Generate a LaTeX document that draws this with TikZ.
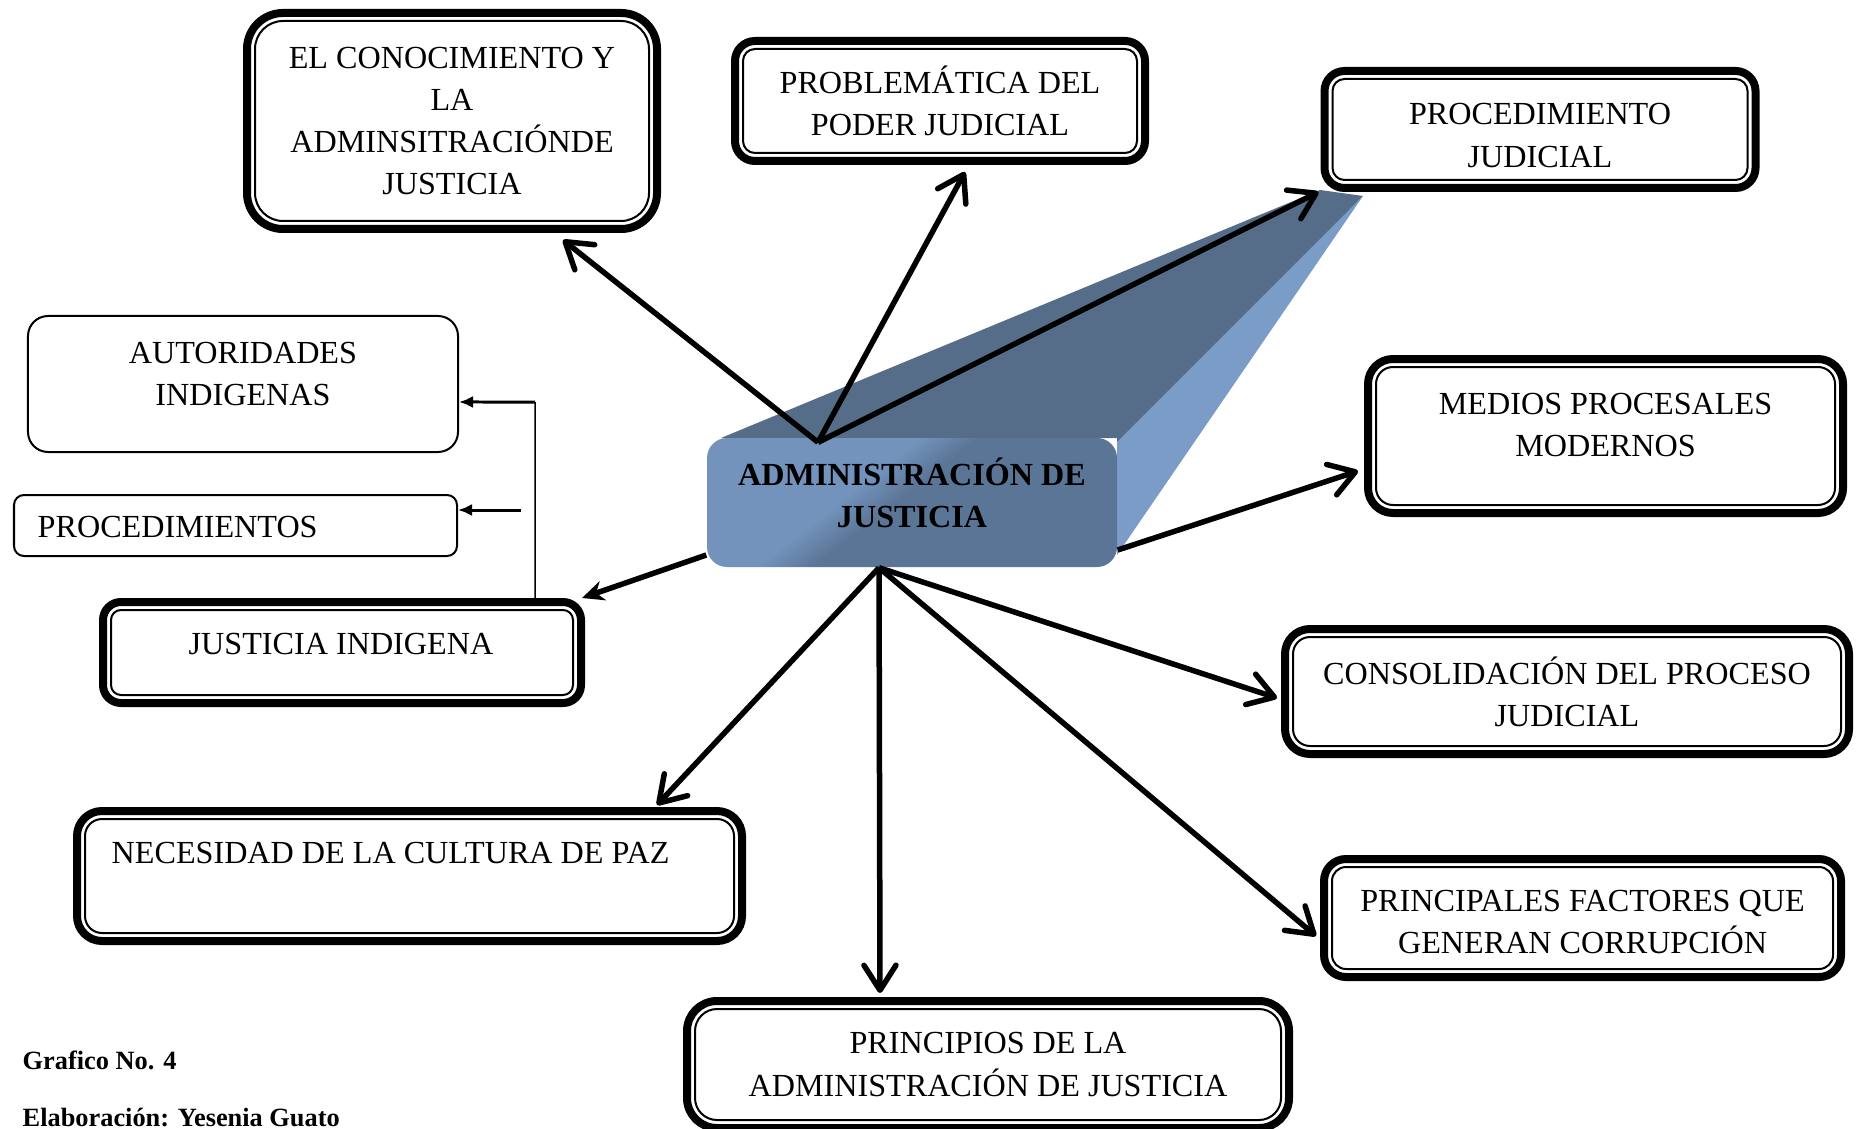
\documentclass[tikz,border=0pt]{standalone}
\usepackage{fontspec}
\setmainfont{Liberation Serif}
\usepackage{xcolor}
\usepackage{tikz}
\usetikzlibrary{calc,arrows.meta,shapes}

\definecolor{admlight}{HTML}{7393BC}
\definecolor{admdark}{HTML}{5B7596}
\definecolor{admtop}{HTML}{566D8A}
\definecolor{admside}{HTML}{7A9CC7}
\pgfdeclarehorizontalshading{admfront}{100bp}{color(0bp)=(admlight); color(41bp)=(admlight); color(48bp)=(admdark); color(100bp)=(admdark)}

\begin{document}
\begin{tikzpicture}[
    txt/.style={font=\fontsize{9.15}{12}\selectfont, align=center},
    dbox/.style={draw, fill=white, line width=0.08cm, rounded corners=#1, txt,
        path picture={\draw[line width=0.02cm, rounded corners=#1-0.08cm]
            ([shift={(0.08cm,0.08cm)}]path picture bounding box.south west) rectangle
            ([shift={(-0.08cm,-0.08cm)}]path picture bounding box.north east);}},
    sbox/.style={draw, fill=white, line width=0.02cm, rounded corners=#1, txt},
    link/.style={line width=0.055cm, -{Straight Barb[length=0.25cm, width=0.32cm, round]}},
    sidearrow/.style={line width=0.03cm, -{Latex[length=0.14cm, width=0.12cm]}},
    foot/.style={anchor=base west, inner sep=0pt, font=\fontsize{7.5}{9}\selectfont\bfseries}
]

    \useasboundingbox (0,0) rectangle (18.57,11.28);

    % bloque central
    \fill[admtop] (7.21,6.90) -- (13.20,9.38) -- (13.63,9.32) -- (11.17,6.78) -- (11.17,6.90) -- cycle;
    \fill[admside] (11.17,6.86) -- (13.63,9.32) -- (11.17,5.73) -- cycle;
    \node[shade, shading=admfront, shading angle=-52, rounded corners=0.2cm,
        minimum width=4.10cm, minimum height=1.29cm] (adm) at (9.12,6.255) {};
    \node[align=center, font=\fontsize{9.15}{12}\selectfont\bfseries] (adm-t) at (9.12,6.355) {ADMINISTRACIÓN DE\\JUSTICIA};

    \node[dbox=0.36cm, minimum width=4.10cm, minimum height=2.16cm] (con) at (4.52,10.07) {EL CONOCIMIENTO Y\\LA\\ADMINSITRACIÓNDE\\JUSTICIA};
    \node[dbox=0.2cm, minimum width=4.10cm, minimum height=1.20cm] (prob) at (9.40,10.27) {PROBLEMÁTICA DEL\\PODER JUDICIAL};
    \node[dbox=0.2cm, minimum width=4.31cm, minimum height=1.17cm] (proc) at (15.40,9.985) {};
    \node[txt] (proc-t) at (15.40,9.925) {PROCEDIMIENTO\\JUDICIAL};
    \node[dbox=0.25cm, minimum width=4.75cm, minimum height=1.54cm] (med) at (16.055,6.92) {};
    \node[txt] (med-t) at (16.055,7.03) {MEDIOS PROCESALES\\MODERNOS};
    \node[dbox=0.25cm, minimum width=5.64cm, minimum height=1.25cm] (cons) at (15.67,4.365) {CONSOLIDACIÓN DEL PROCESO\\JUDICIAL};
    \node[dbox=0.22cm, minimum width=5.17cm, minimum height=1.18cm] (fac) at (15.825,2.10) {};
    \node[txt] (fac-t) at (15.825,2.06) {PRINCIPALES FACTORES QUE\\GENERAN CORRUPCIÓN};
    \node[dbox=0.3cm, minimum width=6.02cm, minimum height=1.27cm] (pri) at (9.88,0.635) {PRINCIPIOS DE LA\\ADMINISTRACIÓN DE JUSTICIA};
    \node[dbox=0.25cm, minimum width=6.65cm, minimum height=1.30cm] (nec) at (4.095,2.52) {};
    \node[txt, anchor=west, inner sep=0pt] (nec-t) at (1.11,2.75) {NECESIDAD DE LA CULTURA DE PAZ};
    \node[dbox=0.18cm, minimum width=4.78cm, minimum height=1.01cm] (ji) at (3.42,4.755) {};
    \node[txt] (ji-t) at (3.41,4.835) {JUSTICIA INDIGENA};
    \node[sbox=0.2cm, minimum width=4.30cm, minimum height=1.36cm] (aut) at (2.43,7.44) {};
    \node[txt] (aut-t) at (2.43,7.54) {AUTORIDADES\\INDIGENAS};
    \node[sbox=0.1cm, minimum width=4.43cm, minimum height=0.61cm] (pdt) at (2.355,6.025) {};
    \node[txt, anchor=west, inner sep=0pt] (pdt-t) at (0.37,6.01) {PROCEDIMIENTOS};

    \node[foot] (graf) at (0.22,0.59) {Grafico No. 4};
    \node[foot] (elab) at (0.22,0.02) {Elaboración: Yesenia Guato};

    % flechas
    \coordinate (hub-up) at ([shift={(-0.94cm,-0.05cm)}]adm.north);
    \coordinate (hub-down) at ([xshift=-0.33cm]adm.south);
    \draw[link] (hub-up) -- ([shift={(1.11cm,-0.07cm)}]con.south);
    \draw[link] (hub-up) -- ([shift={(0.25cm,-0.07cm)}]prob.south);
    \draw[link] (hub-up) -- ([xshift=-0.02cm]proc.south west);
    \draw[link] ([yshift=-0.475cm]adm.east) -- ([shift={(-0.06cm,-0.35cm)}]med.west);
    \draw[link] (hub-down) -- ([shift={(-0.04cm,-0.065cm)}]cons.west);
    \draw[link] (hub-down) -- ([shift={(-0.04cm,-0.18cm)}]fac.west);
    \draw[link] (hub-down) -- ([shift={(-1.08cm,0.04cm)}]pri.north);
    \draw[link] (hub-down) -- ([shift={(2.475cm,0.02cm)}]nec.north);
    \draw[line width=0.055cm, -{Stealth[length=0.22cm, width=0.2cm]}] ([yshift=-0.525cm]adm.west) -- ([xshift=-0.03cm]ji.north east);

    \coordinate (ji-up) at (5.35,7.26);
    \coordinate (pdt-in) at (5.21,6.18);
    \draw[line width=0.015cm] ([xshift=1.93cm]ji.north) -- (ji-up);
    \draw[sidearrow] (ji-up) -- ([yshift=-0.18cm]aut.east);
    \draw[sidearrow] (pdt-in) -- ([yshift=0.155cm]pdt.east);
  \end{tikzpicture}
\end{document}
